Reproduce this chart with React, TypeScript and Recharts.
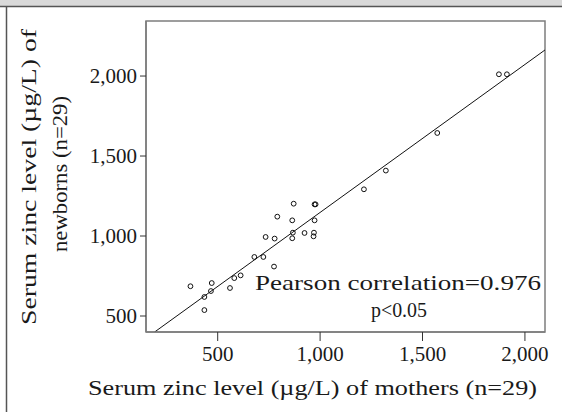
import React from 'react';
import { ScatterChart, Scatter, XAxis, YAxis, ReferenceLine, ReferenceArea } from 'recharts';

// Serum zinc (µg/L), mothers vs newborns, one entry per pair
const motherZinc = [
  367, 435, 435, 471, 467, 560, 581, 612, 679, 723, 775, 734, 778, 791, 871,
  864, 867, 864, 924, 973, 978, 973, 970, 968, 1214, 1321, 1572, 1873, 1912,
];
const newbornZinc = [
  686, 619, 537, 706, 656, 675, 737, 754, 869, 869, 809, 994, 984, 1121, 1202,
  1098, 1021, 986, 1019, 1198, 1198, 1098, 1021, 998, 1292, 1409, 1644, 2011, 2011,
];

// regression line end points
const fitX = [192, 2098];
const fitY = [400, 2163];

const xTicks = [500, 1000, 1500, 2000];
const yTicks = [500, 1000, 1500, 2000];
const xDomain = [150, 2098];
const yDomain = [400, 2344];

const points = motherZinc.map((m, i) => ({ mother: m, newborn: newbornZinc[i] }));

const FONT = '"Liberation Serif", "Times New Roman", serif';
const TEXT = '#1a1a1a';
const BOX = '#7d7d7d';

const fmt = (v: number) => v.toLocaleString('en-US');

const Ring = (props: any) => (
  <circle cx={props.cx} cy={props.cy} r={2.4} fill="none" stroke="#111" strokeWidth={1} />
);

export default function App() {
  return (
    <div style={{ position: 'absolute', left: 0, top: 0, width: 562, height: 412, background: '#fff' }}>
      <ScatterChart width={562} height={412} margin={{ top: 21, right: 17, bottom: 50, left: 0 }}>
        <XAxis
          type="number"
          dataKey="mother"
          domain={xDomain}
          ticks={xTicks}
          allowDataOverflow
          height={30}
          tickSize={9}
          tickMargin={5}
          tickFormatter={fmt}
          tick={{ fill: TEXT, fontSize: 21, fontFamily: FONT }}
          tickLine={{ stroke: '#333' }}
          axisLine={{ stroke: BOX, strokeWidth: 1.5 }}
        />
        <YAxis
          type="number"
          dataKey="newborn"
          domain={yDomain}
          ticks={yTicks}
          allowDataOverflow
          width={146}
          tickSize={6}
          tickMargin={3}
          tickFormatter={fmt}
          tick={{ fill: TEXT, fontSize: 21, fontFamily: FONT }}
          tickLine={{ stroke: '#333' }}
          axisLine={{ stroke: BOX, strokeWidth: 1.5 }}
        />
        {/* plot frame */}
        <ReferenceArea
          x1={xDomain[0]}
          x2={xDomain[1]}
          y1={yDomain[0]}
          y2={yDomain[1]}
          fill="none"
          fillOpacity={0}
          stroke={BOX}
          strokeWidth={1.5}
        />
        <ReferenceLine
          segment={[
            { x: fitX[0], y: fitY[0] },
            { x: fitX[1], y: fitY[1] },
          ]}
          stroke="#111"
          strokeWidth={1}
          ifOverflow="hidden"
        />
        <Scatter data={points} shape={Ring} isAnimationActive={false} />
      </ScatterChart>

      <svg
        width={562}
        height={412}
        style={{ position: 'absolute', left: 0, top: 0, pointerEvents: 'none' }}
      >
        <rect x={0} y={0} width={562} height={6} fill="#d9d9d9" />
        <line x1={0} y1={6.5} x2={562} y2={6.5} stroke="#555" strokeWidth={1.5} />
        <line x1={6.5} y1={6} x2={6.5} y2={412} stroke="#555" strokeWidth={1.5} />

        <g fontFamily={FONT} fontSize={22} fill={TEXT}>
          <text x={312.5} y={395} textAnchor="middle" textLength={449} lengthAdjust="spacingAndGlyphs">
            Serum zinc level (µg/L) of mothers (n=29)
          </text>
          <text
            transform="translate(36,177) rotate(-90)"
            textAnchor="middle"
            textLength={296}
            lengthAdjust="spacingAndGlyphs"
          >
            Serum zinc level (µg/L) of
          </text>
          <text
            transform="translate(67,174) rotate(-90)"
            textAnchor="middle"
            textLength={156}
            lengthAdjust="spacingAndGlyphs"
          >
            newborns (n=29)
          </text>
          <text x={398} y={290} textAnchor="middle" textLength={286} lengthAdjust="spacingAndGlyphs">
            Pearson correlation=0.976
          </text>
          <text x={399} y={317} textAnchor="middle" textLength={56} lengthAdjust="spacingAndGlyphs">
            p&lt;0.05
          </text>
        </g>
      </svg>
    </div>
  );
}
